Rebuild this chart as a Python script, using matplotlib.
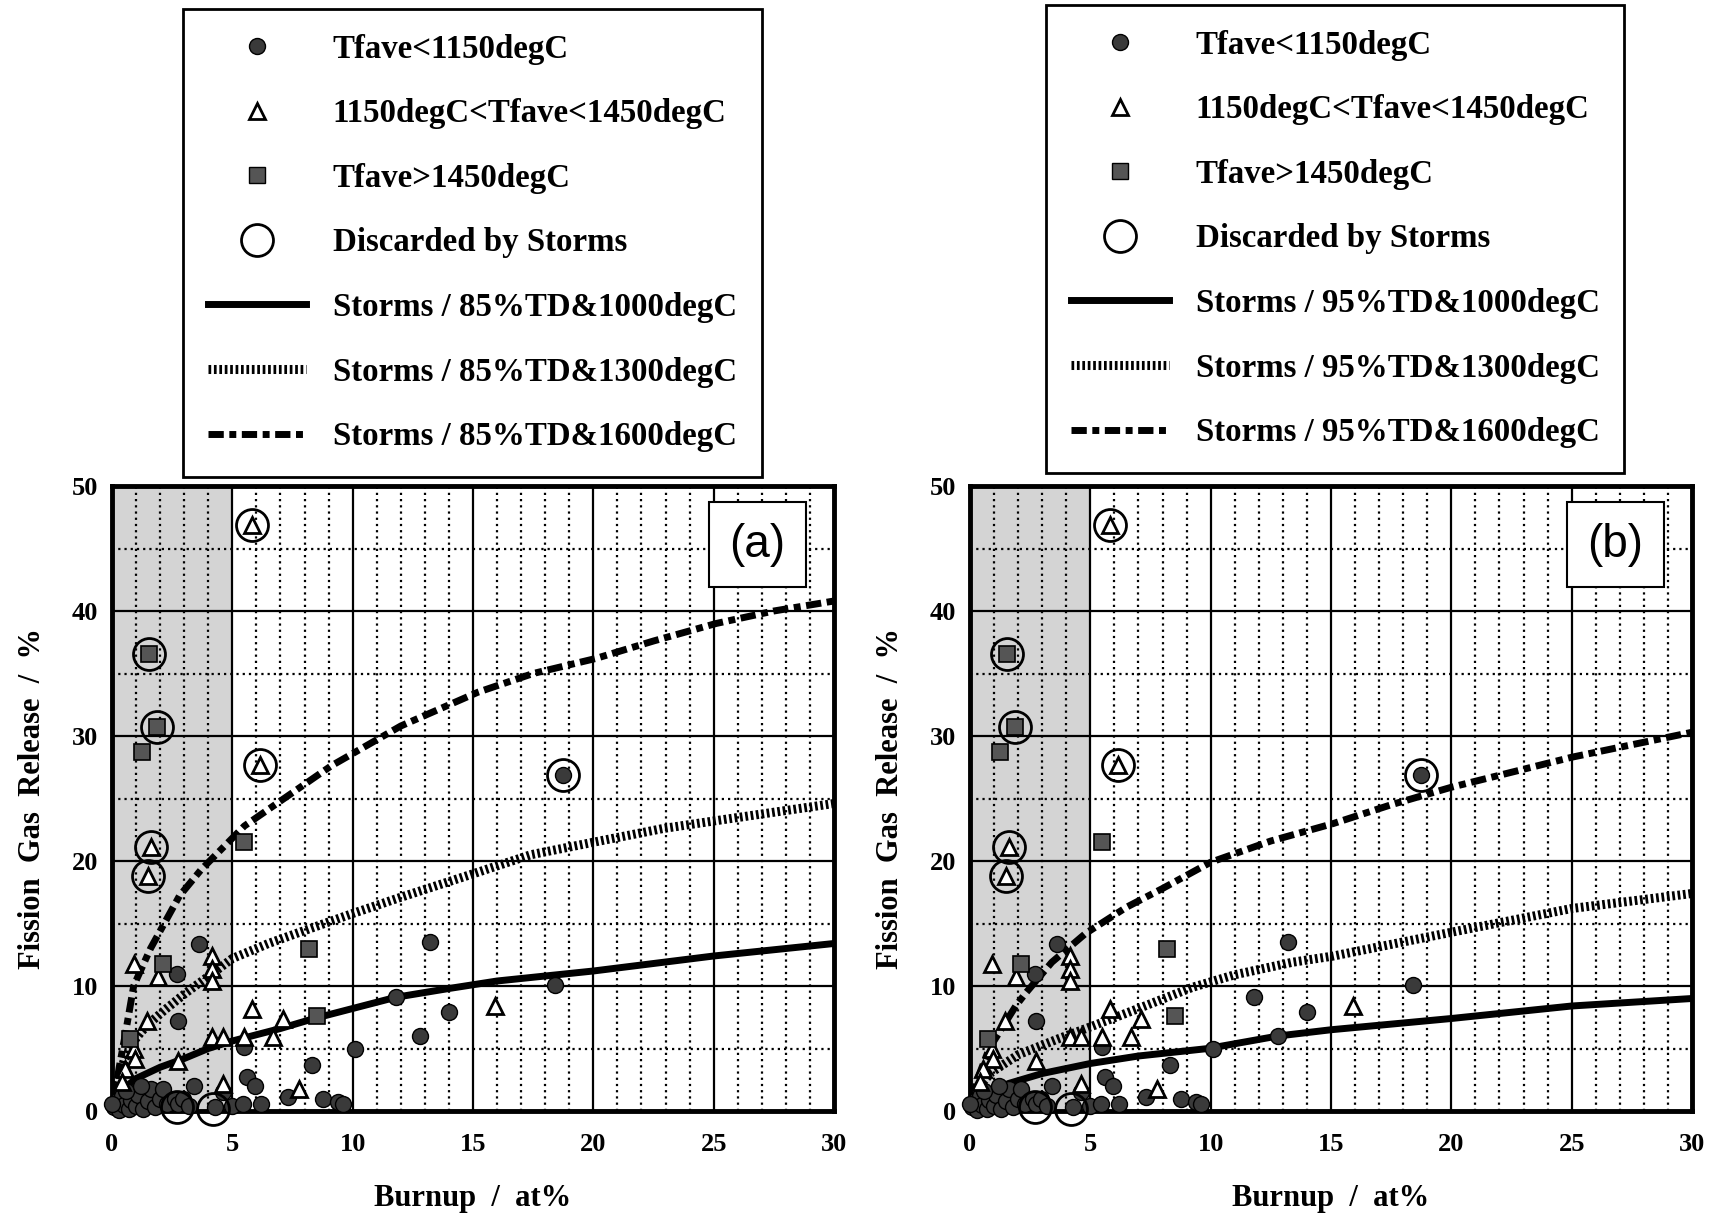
import matplotlib
matplotlib.use('Agg')
import matplotlib.pyplot as plt
from matplotlib.lines import Line2D

plt.rcParams['font.family'] = ['Liberation Serif', 'DejaVu Serif']
plt.rcParams['font.weight'] = 'bold'

# measured points (burnup at%, FGR %), same data in both panels
circ_x = [0.1, 0.2, 0.3, 0.4, 0.5, 0.7, 0.8, 1.0, 1.1, 1.3, 1.5, 1.6, 1.8, 2.0, 2.1, 2.3, 2.6, 2.75,
          2.95, 3.2, 0.0, 0.6, 1.2, 2.7, 3.6, 2.75, 3.4, 4.6, 4.3, 5.0, 5.45, 5.5, 5.6, 5.95, 6.2,
          7.3, 8.3, 8.75, 9.4, 9.6, 10.1, 11.8, 12.8, 13.2, 14.0, 18.4, 18.76]
circ_y = [0.3, 0.8, 0.1, 1.2, 0.5, 0.2, 0.9, 0.4, 1.3, 0.2, 0.8, 1.8, 0.3, 1.0, 1.8, 0.6, 1.0, 0.6,
          1.0, 0.4, 0.6, 1.6, 2.0, 11.0, 13.4, 7.2, 2.0, 1.5, 0.3, 0.4, 0.6, 5.1, 2.7, 2.0, 0.6,
          1.1, 3.7, 1.0, 0.7, 0.6, 5.0, 9.1, 6.0, 13.5, 7.9, 10.1, 26.9]
tri_x = [0.9, 1.9, 4.15, 4.15, 4.15, 1.45, 0.9, 0.95, 0.55, 0.4, 2.75, 4.15, 4.6, 5.5, 6.7, 5.8,
         7.1, 4.6, 7.75, 15.9, 5.8, 6.15, 1.6, 1.5]
tri_y = [11.8, 10.7, 12.4, 11.4, 10.4, 7.2, 5.0, 4.2, 3.4, 2.3, 4.0, 5.9, 5.9, 5.9, 5.9, 8.2,
         7.4, 2.2, 1.8, 8.4, 46.9, 27.7, 21.1, 18.8]
sq_x = [1.25, 0.75, 2.1, 5.5, 8.2, 8.5, 1.55, 1.85]
sq_y = [28.7, 5.8, 11.8, 21.5, 13.0, 7.6, 36.6, 30.7]
disc_x = [5.8, 6.15, 1.6, 1.5, 1.55, 1.85, 18.76, 2.7, 4.2]
disc_y = [46.9, 27.7, 21.1, 18.8, 36.6, 30.7, 26.9, 0.3, 0.2]

# Storms curves, 85%TD (a)
a1000_x = [0, 0.3, 1, 2, 3, 4, 5, 6, 7, 8.4, 10, 11.8, 14, 16, 20, 25, 30]
a1000_y = [0, 1.5, 2.6, 3.5, 4.2, 5.0, 5.6, 6.1, 6.6, 7.4, 8.2, 9.1, 9.8, 10.4, 11.2, 12.4, 13.4]
a1300_x = [0, 0.2, 0.5, 0.87, 1.2, 1.6, 2.2, 3.1, 4.1, 5, 6.5, 7.8, 10, 12, 15.2, 17.4, 20, 22.9, 25, 30]
a1300_y = [0, 2.0, 4.0, 5.5, 6.3, 7.1, 8.1, 9.5, 10.9, 12.2, 13.4, 14.3, 15.8, 17.1, 19.1, 20.5, 21.5,
           22.6, 23.2, 24.6]
a1600_x = [0, 0.3, 0.54, 0.9, 1.6, 2.8, 3.7, 5.5, 7.3, 9.1, 12, 15.2, 17.5, 20.1, 22.5, 25.1, 27.5, 30]
a1600_y = [0, 3.5, 6.0, 10.0, 13.0, 17.2, 19.3, 22.8, 25.2, 27.6, 30.8, 33.5, 35.0, 36.2, 37.6, 39.0,
           40.0, 40.8]
# Storms curves, 95%TD (b)
b1000_x = [0, 0.5, 1.6, 3, 5, 7, 9.9, 12.8, 15, 20, 25, 30]
b1000_y = [0, 1.3, 2.2, 3.0, 3.8, 4.4, 5.0, 6.0, 6.5, 7.4, 8.4, 9.0]
b1300_x = [0, 0.3, 0.9, 2, 3.7, 5.1, 7, 9.25, 11, 13.4, 15.1, 20, 25, 30]
b1300_y = [0, 1.8, 3.1, 4.5, 5.8, 6.8, 8.2, 9.9, 10.9, 11.9, 12.4, 14.3, 16.2, 17.4]
b1600_x = [0, 0.3, 0.8, 1.9, 2.3, 3.4, 4.8, 6.5, 8, 10, 12.5, 15.1, 17.5, 20, 22.5, 25, 27.5, 30]
b1600_y = [0, 2.5, 5.0, 8.4, 9.4, 11.9, 14.2, 16.3, 17.8, 19.9, 21.6, 23.0, 24.5, 25.9, 27.1, 28.3,
           29.3, 30.3]

x_ticks = [0, 5, 10, 15, 20, 25, 30]
y_ticks = [0, 10, 20, 30, 40, 50]

labels_a = ['Tfave<1150degC', '1150degC<Tfave<1450degC', 'Tfave>1450degC', 'Discarded by Storms',
            'Storms / 85%TD&1000degC', 'Storms / 85%TD&1300degC', 'Storms / 85%TD&1600degC']
labels_b = [s.replace('85%', '95%') for s in labels_a]

LS_1000 = dict(color='black', lw=5, ls='-')
LS_1300 = dict(color='black', lw=6.5, ls=(0, (0.3, 0.3)))
LS_1600 = dict(color='black', lw=5, ls=(0, (2.2, 0.8, 1.0, 0.8)))

W, H = 1721, 1214
fig = plt.figure(figsize=(W / 100, H / 100), dpi=100)


def panel(left_px, c1000, c1300, c1600, tag):
    ax = fig.add_axes([left_px / W, 1 - 1111 / H, 722 / W, 625 / H])
    ax.set_xlim(0, 30)
    ax.set_ylim(0, 50)
    ax.axvspan(0, 5, color='#d4d4d4', zorder=0, lw=0)
    ax.set_xticks(x_ticks)
    ax.set_yticks(y_ticks)
    ax.set_xticks([v for v in range(31) if v % 5], minor=True)
    ax.set_yticks([5, 15, 25, 35, 45], minor=True)
    ax.grid(which='major', color='black', lw=1.6, ls='-')
    ax.grid(which='minor', color='black', lw=1.6, ls=(0, (1, 1.8)))
    ax.set_axisbelow(True)
    for s in ax.spines.values():
        s.set_linewidth(3.5)
    ax.tick_params(which='both', length=0)
    ax.tick_params(axis='x', pad=16, labelsize=19)
    ax.tick_params(axis='y', pad=10, labelsize=19)

    ax.plot(c1000[0], c1000[1], zorder=3, **LS_1000)
    ax.plot(c1300[0], c1300[1], zorder=3, **LS_1300)
    ax.plot(c1600[0], c1600[1], zorder=3, **LS_1600)

    ax.plot(circ_x, circ_y, 'o', ms=11.5, mfc='#3a3a3a', mec='black', mew=1, zorder=4, clip_on=False)
    ax.plot(tri_x, tri_y, '^', ms=11.5, mfc='white', mec='black', mew=2, zorder=5, clip_on=False)
    ax.plot(sq_x, sq_y, 's', ms=11, mfc='#555555', mec='black', mew=1.2, zorder=5, clip_on=False)
    ax.plot(disc_x, disc_y, 'o', ms=23, mfc='none', mec='black', mew=2, zorder=6, clip_on=False)

    ax.text(0.894, 0.906, tag, transform=ax.transAxes, ha='center', va='center',
            fontsize=33, fontweight='normal', family='Liberation Sans',
            bbox=dict(boxstyle='square,pad=0.45', fc='white', ec='black', lw=1.5), zorder=7)
    ax.set_xlabel('Burnup  /  at%', fontsize=22, fontweight='bold', labelpad=20)
    ax.set_ylabel('Fission  Gas  Release  /  %', fontsize=22, fontweight='bold', labelpad=18)
    return ax


ax_a = panel(112, (a1000_x, a1000_y), (a1300_x, a1300_y), (a1600_x, a1600_y), '(a)')
ax_b = panel(970, (b1000_x, b1000_y), (b1300_x, b1300_y), (b1600_x, b1600_y), '(b)')

handles = [
    Line2D([], [], ls='none', marker='o', ms=11.5, mfc='#3a3a3a', mec='black'),
    Line2D([], [], ls='none', marker='^', ms=11.5, mfc='white', mec='black', mew=2),
    Line2D([], [], ls='none', marker='s', ms=11, mfc='#555555', mec='black'),
    Line2D([], [], ls='none', marker='o', ms=23, mfc='none', mec='black', mew=2),
    Line2D([], [], **LS_1000),
    Line2D([], [], **LS_1300),
    Line2D([], [], **LS_1600),
]

for x0, y0, labs in [(183, 9, labels_a), (1046, 5, labels_b)]:
    leg = fig.legend(handles, labs, loc='upper left', bbox_to_anchor=(x0 / W, 1 - y0 / H),
                     frameon=True, fancybox=False, edgecolor='black', framealpha=1,
                     prop=dict(size=23.7, weight='bold'), handlelength=3.0, handletextpad=0.8,
                     labelspacing=1.02, borderpad=0.75, borderaxespad=0)
    leg.get_frame().set_linewidth(2)

fig.savefig('out.png', dpi=100)
